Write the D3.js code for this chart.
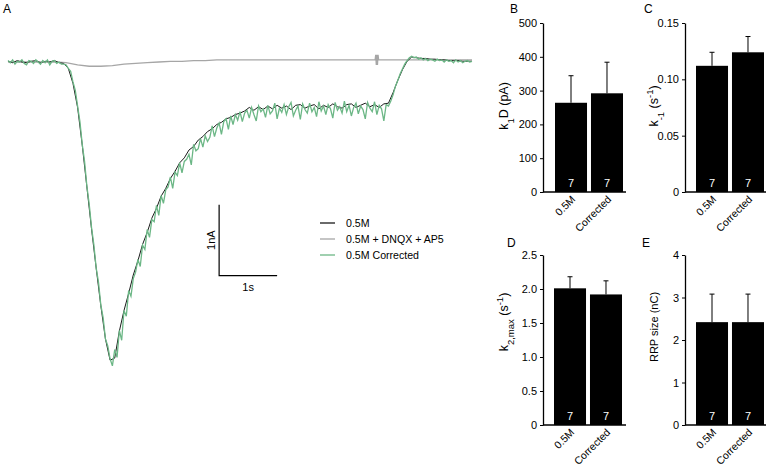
<!DOCTYPE html>
<html>
<head>
<meta charset="utf-8">
<script src="https://cdn.jsdelivr.net/npm/d3@7"></script>
<style>
  html, body { margin: 0; padding: 0; background: #fff; }
  svg { display: block; font-family: "Liberation Sans", Arial, sans-serif; }
</style>
</head>
<body>
<svg id="chart" width="766" height="469"></svg>
<script>
// ---------- Panel A data (current in nA) ----------
const greenStep = 0.04; // s per sample
const greenTrace = [
  0.02,-0.01,0.03,-0.03,0.01,0.00,0.03,-0.02,-0.04,0.02,0.01,-0.02,0.03,0.00,-0.03,0.02,-0.01,0.03,-0.04,0.01,0.02,-0.02,0.00,-0.03,
  -0.03,-0.04,-0.09,-0.13,-0.28,-0.40,-0.62,-0.84,-1.16,-1.40,-1.75,-2.00,-2.33,-2.57,-2.90,-3.10,-3.42,-3.60,-3.90,-4.00,
  -4.18,-4.28,-4.05,-4.16,-3.78,-3.92,
  -3.50,-3.58,-3.22,-3.30,-3.05,-2.96,-2.78,-2.88,-2.58,-2.64,
  -2.36,-2.47,-2.22,-2.25,-2.02,-2.16,-1.88,-1.99,-1.80,-1.76,
  -1.62,-1.78,-1.55,-1.60,-1.42,-1.56,-1.40,-1.37,-1.30,-1.45,
  -1.16,-1.25,-1.22,-1.08,-1.20,-1.04,-1.12,-1.06,-0.90,-1.05,
  -0.93,-0.86,-1.02,-0.84,-0.80,-0.95,-0.76,-0.88,-0.74,-0.82,
  -0.70,-0.84,-0.72,-0.68,-0.79,-0.64,-0.74,-0.83,-0.62,-0.70,
  -0.66,-0.78,-0.61,-0.73,-0.69,-0.58,-0.80,-0.65,-0.71,-0.60,
  -0.74,-0.63,-0.57,-0.76,-0.68,-0.62,-0.81,-0.59,-0.67,-0.72,
  -0.58,-0.70,-0.64,-0.77,-0.56,-0.69,-0.62,-0.74,-0.60,-0.66,
  -0.79,-0.57,-0.68,-0.63,-0.72,-0.55,-0.70,-0.61,-0.76,-0.64,
  -0.58,-0.73,-0.62,-0.67,-0.80,-0.57,-0.65,-0.70,-0.56,-0.74,
  -0.61,-0.66,-0.83,-0.60,-0.62,-0.55,-0.46,-0.34,-0.26,-0.17,
  -0.10,-0.03,0.02,0.06,0.08,0.06,0.07,0.04,0.06,0.03,
  0.05,0.02,0.04,0.03,0.01,0.04,0.02,0.03,0.00,0.03,
  0.01,0.02,-0.01,0.03,0.00,0.02,-0.01,0.01,0.02,0.00,
  0.01
];
const blackStep = 0.08;
const blackTrace = [
  0.01,-0.01,0.02,0.00,-0.01,0.01,0.02,-0.01,0.01,0.00,0.02,-0.01,
  -0.02,-0.09,-0.30,-0.64,-1.17,-1.76,-2.35,-2.90,-3.43,-3.90,-4.20,-4.17,
  -3.79,-3.50,-3.26,-3.00,-2.80,-2.57,-2.40,-2.20,-2.06,-1.89,-1.78,-1.64,
  -1.54,-1.42,-1.35,-1.24,-1.19,-1.10,-1.05,-0.98,-0.94,-0.88,-0.85,-0.80,
  -0.78,-0.74,-0.72,
  -0.69,-0.64,-0.68,-0.63,-0.67,-0.62,-0.66,-0.61,-0.65,-0.62,-0.67,-0.61,-0.60,-0.65,-0.62,-0.60,
  -0.66,-0.61,-0.64,-0.59,-0.63,-0.65,-0.60,-0.59,-0.64,-0.61,-0.58,-0.63,-0.60,-0.64,-0.59,-0.58,
  -0.43,-0.26,-0.11,0.01,0.07,0.06,0.05,0.05,0.04,0.04,0.03,0.03,0.02,0.02,0.02,0.01,0.01,0.01
];
// gray trace: [time s, current nA]
const grayTrace = [
  [0,0.00],[0.2,0.00],[0.4,0.00],[0.6,0.00],[0.8,0.00],[1.0,-0.01],[1.2,-0.04],[1.4,-0.06],
  [1.6,-0.06],[1.8,-0.05],[2.0,-0.03],[2.2,-0.02],[2.4,-0.01],[2.6,0.00],[2.8,0.01],[3.0,0.01],
  [3.2,0.02],[3.4,0.02],[3.6,0.03],[3.8,0.03],[4.0,0.03],[4.4,0.03],[4.8,0.03],[5.2,0.03],
  [5.6,0.03],[6.0,0.03],[6.33,0.03],[6.34,0.10],[6.35,-0.04],[6.36,0.10],[6.37,-0.04],[6.38,0.10],
  [6.39,0.03],[6.6,0.03],[7.0,0.03],[7.4,0.03],[7.8,0.03],[8.0,0.03]
];
const legendLabels = ["0.5M", "0.5M + DNQX + AP5", "0.5M Corrected"];
const legendColors = ["#1a1a1a", "#a6a6a6", "#6cb786"];

// ---------- Bar panels data ----------
const barCategories = ["0.5M", "Corrected"];
const k1D = [264, 292];           const k1DErr = [344, 384];
const kMinus1 = [0.112, 0.124];   const kMinus1Err = [0.124, 0.138];
const k2max = [2.01, 1.92];       const k2maxErr = [2.18, 2.12];
const rrp = [2.42, 2.42];         const rrpErr = [3.08, 3.08];
const nCells = [7, 7];
const ticksB = [0, 100, 200, 300, 400, 500];
const ticksC = [0, 0.05, 0.10, 0.15];
const ticksD = [0, 0.5, 1.0, 1.5, 2.0, 2.5];
const ticksE = [0, 1, 2, 3, 4];

const svg = d3.select("#chart");
const FONT = 11;

// ---------- Panel A ----------
const xA = d3.scaleLinear().domain([0, 8]).range([8, 472]);
const yA = d3.scaleLinear().domain([0, -4.5]).range([62, 62 + 4.5 * 71]);

svg.append("text").attr("x", 3).attr("y", 13).attr("font-size", 12).text("A");

const gA = svg.append("g");
gA.append("path").datum(grayTrace)
  .attr("d", d3.line().x(d => xA(d[0])).y(d => yA(d[1])))
  .attr("fill", "none").attr("stroke", legendColors[1]).attr("stroke-width", 1.3);
gA.append("path").datum(blackTrace)
  .attr("d", d3.line().x((d, i) => xA(i * blackStep)).y(d => yA(d)))
  .attr("fill", "none").attr("stroke", legendColors[0]).attr("stroke-width", 1);
gA.append("path").datum(greenTrace)
  .attr("d", d3.line().x((d, i) => xA(i * greenStep)).y(d => yA(d)))
  .attr("fill", "none").attr("stroke", legendColors[2]).attr("stroke-width", 1.3);

// scale bar: 1 s x 1 nA
const sbT = 3.64, sbI = -3.01;
gA.append("path")
  .attr("d", `M${xA(sbT)},${yA(sbI + 1)}V${yA(sbI)}H${xA(sbT + 1)}`)
  .attr("fill", "none").attr("stroke", "#000").attr("stroke-width", 1.2);
gA.append("text")
  .attr("transform", `translate(${xA(sbT) - 4},${(yA(sbI + 1) + yA(sbI)) / 2}) rotate(-90)`)
  .attr("text-anchor", "middle").attr("font-size", FONT).text("1nA");
gA.append("text")
  .attr("x", (xA(sbT) + xA(sbT + 1)) / 2).attr("y", yA(sbI) + 15)
  .attr("text-anchor", "middle").attr("font-size", FONT).text("1s");

// legend
const leg = svg.append("g").attr("transform", "translate(320,223)");
legendLabels.forEach((lab, i) => {
  const g = leg.append("g").attr("transform", `translate(0,${i * 16})`);
  g.append("line").attr("x1", 0).attr("x2", 15).attr("y1", 0).attr("y2", 0)
    .attr("stroke", legendColors[i]).attr("stroke-width", 1.3);
  g.append("text").attr("x", 26).attr("y", 4).attr("font-size", 10.6).text(lab);
});

// ---------- Bar panels ----------
function barPanel(opt) {
  const g = svg.append("g");
  const x = d3.scaleBand().domain(barCategories).range(opt.xr).paddingInner(0.11).paddingOuter(0);
  const y = d3.scaleLinear().domain([0, opt.max]).range([opt.y0, opt.y1]);
  g.selectAll("rect.bar").data(opt.vals).enter().append("rect")
    .attr("x", (d, i) => x(barCategories[i])).attr("width", x.bandwidth())
    .attr("y", d => y(d)).attr("height", d => y(0) - y(d)).attr("fill", "#000");
  opt.vals.forEach((v, i) => {
    const cx = x(barCategories[i]) + x.bandwidth() / 2;
    g.append("line").attr("x1", cx).attr("x2", cx).attr("y1", y(v)).attr("y2", y(opt.err[i]))
      .attr("stroke", "#000").attr("stroke-width", 1);
    g.append("line").attr("x1", cx - 2.5).attr("x2", cx + 2.5).attr("y1", y(opt.err[i])).attr("y2", y(opt.err[i]))
      .attr("stroke", "#000").attr("stroke-width", 1);
    g.append("text").attr("x", cx).attr("y", y(0) - 5).attr("text-anchor", "middle")
      .attr("font-size", FONT).attr("fill", "#fff").text(nCells[i]);
    g.append("text")
      .attr("transform", `translate(${cx + 5},${opt.y0 + 8}) rotate(-45)`)
      .attr("text-anchor", "end").attr("font-size", 10.5).text(barCategories[i]);
  });
  const ax = d3.axisLeft(y).tickValues(opt.ticks).tickSizeInner(3).tickSizeOuter(0).tickPadding(3)
    .tickFormat(opt.fmt);
  const ga = g.append("g").attr("transform", `translate(${opt.ax},0)`).call(ax);
  ga.select(".domain").attr("stroke-width", 1.3);
  ga.selectAll("text").attr("font-size", FONT).attr("font-family", "Liberation Sans, Arial, sans-serif");
  g.append("line").attr("x1", opt.ax).attr("x2", opt.xEnd).attr("y1", y(0)).attr("y2", y(0))
    .attr("stroke", "#000").attr("stroke-width", 1.3);
  g.append("text").attr("x", opt.lx).attr("y", opt.ly).attr("font-size", 12).text(opt.letter);
  const t = g.append("text")
    .attr("transform", `translate(${opt.tx},${opt.ty}) rotate(-90)`)
    .attr("text-anchor", "middle").attr("font-size", opt.tfs);
  opt.title(t);
}

const fmt0 = d => d === 0 ? "0" : d3.format("d")(d);
const SUB = 9.5;
barPanel({ vals: k1D, err: k1DErr, max: 500, ticks: ticksB, fmt: fmt0,
  xr: [555, 623], y0: 192, y1: 23, ax: 543, xEnd: 626, letter: "B", lx: 510, ly: 13,
  tx: 508, ty: 106, tfs: 12.5,
  title: t => { t.append("tspan").text("k"); t.append("tspan").attr("baseline-shift", "sub").attr("font-size", SUB).text("1");
    t.append("tspan").text("D (pA)"); } });
barPanel({ vals: kMinus1, err: kMinus1Err, max: 0.15, ticks: ticksC,
  fmt: d => d === 0 ? "0" : d3.format(".2f")(d),
  xr: [696, 764], y0: 192, y1: 23, ax: 685, xEnd: 766, letter: "C", lx: 644, ly: 13,
  tx: 658, ty: 106, tfs: 12.5,
  title: t => { t.append("tspan").text("k"); t.append("tspan").attr("baseline-shift", "sub").attr("font-size", SUB).text("-1");
    t.append("tspan").text(" (s"); t.append("tspan").attr("baseline-shift", "super").attr("font-size", SUB).text("-1");
    t.append("tspan").text(")"); } });
barPanel({ vals: k2max, err: k2maxErr, max: 2.5, ticks: ticksD,
  fmt: d => d === 0 ? "0" : d3.format(".1f")(d),
  xr: [554, 622], y0: 425, y1: 255, ax: 543, xEnd: 626, letter: "D", lx: 507, ly: 247,
  tx: 508, ty: 322, tfs: 12.5,
  title: t => { t.append("tspan").text("k"); t.append("tspan").attr("baseline-shift", "sub").attr("font-size", SUB).text("2,max");
    t.append("tspan").text(" (s"); t.append("tspan").attr("baseline-shift", "super").attr("font-size", SUB).text("-1");
    t.append("tspan").text(")"); } });
barPanel({ vals: rrp, err: rrpErr, max: 4, ticks: ticksE, fmt: fmt0,
  xr: [696, 764], y0: 425, y1: 255, ax: 685, xEnd: 766, letter: "E", lx: 642, ly: 247,
  tx: 658, ty: 327, tfs: 11,
  title: t => { t.text("RRP size (nC)"); } });
</script>
</body>
</html>
